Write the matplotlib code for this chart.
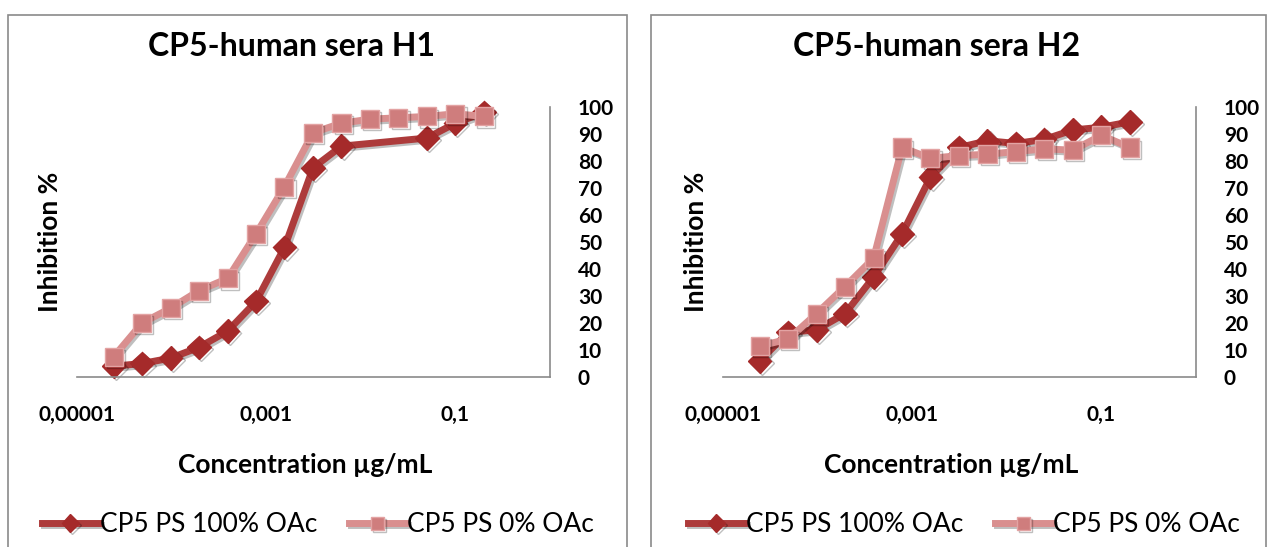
import numpy as np
import matplotlib
matplotlib.use('Agg')
import matplotlib.pyplot as plt
import matplotlib.patheffects as pe
from matplotlib.patches import Rectangle

plt.rcParams['font.family'] = ['Lato', 'DejaVu Sans']

# concentration (ug/mL), 2-fold dilution series
conc = [2.44e-5, 4.88e-5, 9.77e-5, 1.95e-4, 3.91e-4, 7.81e-4, 1.56e-3,
        3.13e-3, 6.25e-3, 0.0125, 0.025, 0.05, 0.1, 0.2]
# H1: 100% OAc has no values at 0.0125 and 0.025
conc_h1_100 = [2.44e-5, 4.88e-5, 9.77e-5, 1.95e-4, 3.91e-4, 7.81e-4, 1.56e-3,
               3.13e-3, 6.25e-3, 0.05, 0.1, 0.2]
h1_100 = [4, 5, 7, 11, 17, 28, 48, 77.5, 85.5, 88.5, 94, 98]
h1_0 = [7.5, 20, 25.5, 32, 36.5, 53, 70.5, 90.5, 94, 95.5, 96, 96.5, 97.5, 96.5]
h2_100 = [6, 16.5, 17.5, 23.5, 37, 53, 74, 85, 87.5, 86.5, 88, 91.5, 92.5, 94.5]
h2_0 = [11.5, 14, 23.5, 33.5, 44, 85, 81, 82, 82.5, 83.5, 84.5, 84, 89.5, 85]

titles = ['CP5-human sera H1', 'CP5-human sera H2']
labels = ['CP5 PS 100% OAc', 'CP5 PS 0% OAc']
xticks = [1e-5, 1e-3, 1e-1]
xticklabels = ['0,00001', '0,001', '0,1']

W, H = 1273, 547
red_line = '#ad3b3b'
red_mark = '#a52a2a'
pink_line = '#d98f8f'
pink_mark = '#cf7d7d'
gray = '#8a8a8a'

fig = plt.figure(figsize=(W / 100, H / 100), dpi=100)

shadow = [pe.SimpleLineShadow(offset=(1.5, -1.5), shadow_color='black', alpha=0.25), pe.Normal()]


def panel(x0, fx0, fx1, title, c100, y100, y0):
    # frame of the chart, runs off the bottom edge
    fig.patches.append(Rectangle((fx0 / W, -0.05), (fx1 - fx0) / W, (H - 15) / H + 0.05,
                                 transform=fig.transFigure, fill=False,
                                 edgecolor=gray, lw=1.2))
    ax = fig.add_axes([x0 / W, 1 - 377 / H, 473 / W, 270 / H])
    ax.plot(c100, y100, color=red_line, lw=5, marker='D', ms=12,
            mfc=red_mark, mec=red_mark, label=labels[0], path_effects=shadow)
    ax.plot(conc, y0, color=pink_line, lw=5, marker='s', ms=13,
            mfc=pink_mark, mec='#e3a3a3', mew=1, label=labels[1], path_effects=shadow)
    ax.set_xscale('log')
    ax.set_xlim(1e-5, 1)
    ax.set_ylim(0, 100)
    ax.set_xticks(xticks)
    ax.set_xticklabels(xticklabels)
    ax.minorticks_off()
    ax.set_yticks(np.arange(0, 101, 10))
    ax.yaxis.tick_right()
    ax.tick_params(axis='both', length=0, labelsize=15)
    ax.tick_params(axis='y', pad=20)
    ax.tick_params(axis='x', pad=20)
    for t in ax.get_xticklabels() + ax.get_yticklabels():
        t.set_fontweight('bold')
    for s in ['left', 'top']:
        ax.spines[s].set_visible(False)
    for s in ['right', 'bottom']:
        ax.spines[s].set_color(gray)
        ax.spines[s].set_linewidth(1.2)
    ax.patch.set_alpha(0)
    for ln in ax.lines:
        ln.set_clip_on(False)

    fig.text((x0 + 214) / W, 1 - 46 / H, title, ha='center', va='center',
             fontsize=23, fontweight='bold')
    fig.text((x0 + 228) / W, 1 - 465 / H, 'Concentration µg/mL', ha='center',
             va='center', fontsize=19, fontweight='bold')
    fig.text((x0 - 27) / W, 1 - 242 / H, 'Inhibition %', ha='center',
             va='center', rotation=90, fontsize=19, fontweight='bold')
    leg = ax.legend(loc='center', bbox_to_anchor=((x0 + 241) / W, 1 - 525 / H),
                    bbox_transform=fig.transFigure, ncol=2, frameon=False,
                    fontsize=19, numpoints=1, handlelength=2.15, handletextpad=0.05,
                    columnspacing=1.2)
    for h in leg.legend_handles:
        h.set_markersize(9)
    return ax


panel(77, 8, 627, titles[0], conc_h1_100, h1_100, h1_0)
panel(723, 651, 1266, titles[1], conc, h2_100, h2_0)

fig.savefig('out.png', dpi=100)
